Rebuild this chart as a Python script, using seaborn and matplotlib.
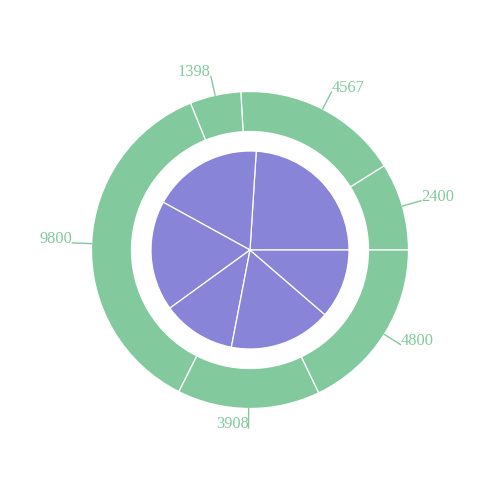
import numpy as np
import matplotlib
matplotlib.use("Agg")
import matplotlib.pyplot as plt
import seaborn as sns

sns.set_theme(style="white")
plt.rcParams['font.family'] = ['Liberation Serif', 'DejaVu Serif']

# inner pie (no labels)
inner_names = ['Group A', 'Group B', 'Group C', 'Group D', 'Group E', 'Group F']
inner_values = [400, 300, 300, 200, 278, 189]

# outer ring, counterclockwise from 3 o'clock
outer_names = ['A1', 'A2', 'B1', 'B2', 'C1', 'C2']
outer_values = [2400, 4567, 1398, 9800, 3908, 4800]

purple = '#8884d8'
green = '#82ca9d'

fig = plt.figure(figsize=(5.0, 5.04), dpi=100)
ax = fig.add_axes([0, 0, 1, 1])

ax.pie(inner_values, radius=99, startangle=0, counterclock=True,
       colors=[purple] * len(inner_values),
       wedgeprops=dict(edgecolor='white', linewidth=0.9), center=(0, 0), frame=True)
ax.pie(outer_values, radius=158.5, startangle=0, counterclock=True,
       colors=[green] * len(outer_values),
       wedgeprops=dict(width=40, edgecolor='white', linewidth=0.9), center=(0, 0), frame=True)
ax.set_xlim(-250, 250)
ax.set_ylim(-254, 250)
ax.set_aspect('equal')
ax.axis('off')

# labels with straight leader lines
vals = np.array(outer_values, dtype=float)
ends = np.cumsum(vals) / vals.sum() * 360
mids = np.deg2rad(ends - vals / vals.sum() * 180)
r0, r1 = 158.5, 178
for v, a in zip(outer_values, mids):
    x0, y0 = r0 * np.cos(a), r0 * np.sin(a)
    x1, y1 = r1 * np.cos(a), r1 * np.sin(a)
    ax.plot([x0, x1], [y0, y1], color=green, lw=1)
    ax.text(x1, y1, str(v), color=green, fontsize=11.8,
            ha='left' if x1 > 0 else 'right', va='baseline')

fig.savefig('out.png', dpi=100)
